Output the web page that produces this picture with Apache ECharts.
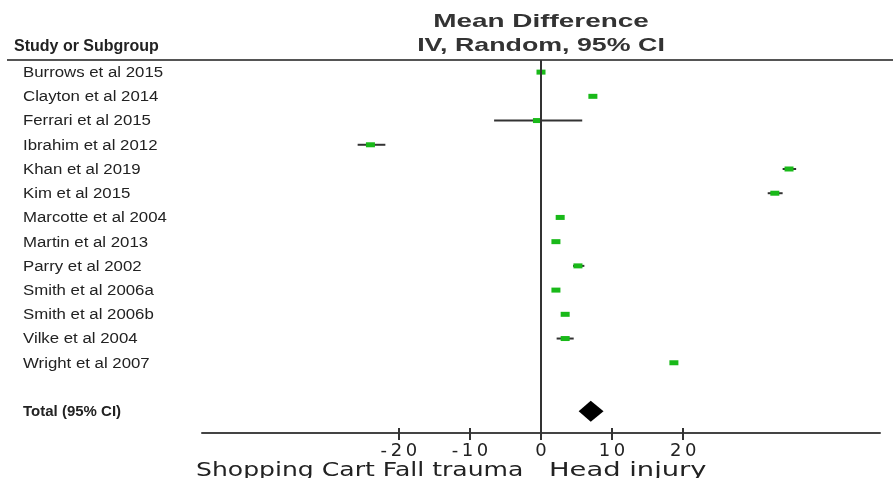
<!DOCTYPE html>
<html>
<head>
<meta charset="utf-8">
<script src="https://cdn.jsdelivr.net/npm/echarts@6/dist/echarts.min.js"></script>
<style>html,body{margin:0;padding:0;background:#fff}#c{width:893px;height:478px}</style>
</head>
<body>
<div id="c"></div>
<script>
const studies = ["Burrows et al 2015","Clayton et al 2014","Ferrari et al 2015","Ibrahim et al 2012","Khan et al 2019","Kim et al 2015","Marcotte et al 2004","Martin et al 2013","Parry et al 2002","Smith et al 2006a","Smith et al 2006b","Vilke et al 2004","Wright et al 2007"];
const meanDiff = [0, 7.3, -0.5, -24.0, 34.9, 32.9, 2.7, 2.1, 5.2, 2.1, 3.4, 3.4, 18.7];
const ciLower  = [-0.3, 7.0, -6.6, -25.8, 34.0, 31.9, 2.4, 1.8, 4.5, 1.8, 3.1, 2.2, 18.4];
const ciUpper  = [0.3, 7.6, 5.8, -21.9, 35.9, 34.0, 3.0, 2.4, 6.1, 2.4, 3.7, 4.6, 19.0];
const totalLabel = "Total (95% CI)";
const totalMD = 7.0, totalLower = 5.3, totalUpper = 8.8;
const tickValues = [-20, -10, 0, 10, 20];
const leftLabel = "Shopping Cart Fall trauma";
const rightLabel = "Head injury";
const headerTitle1 = "Mean Difference";
const headerTitle2 = "IV, Random, 95% CI";
const headerStudy = "Study or Subgroup";

const totalRow = studies.length + 1;
const studyData = studies.map((s, i) => [meanDiff[i], ciLower[i], ciUpper[i], i]);

const chart = echarts.init(document.getElementById('c'));
chart.setOption({
  animation: false,
  backgroundColor: '#fff',
  grid: {left: 202, right: 13, top: 60, bottom: 45},
  xAxis: [{
    type: 'value', min: -47.7, max: 47.7,
    splitLine: {show: false},
    axisLine: {show: true, onZero: false, lineStyle: {color: '#444', width: 2}},
    axisTick: {show: true, customValues: tickValues, length: 7, lineStyle: {color: '#333', width: 2}},
    axisLabel: {customValues: tickValues, margin: 9, fontFamily: 'DejaVu Sans', fontSize: 18, color: '#222',
      formatter: v => String(v).split('').join('\u2009')}
  }, {
    type: 'value', min: -47.7, max: 47.7, position: 'bottom', offset: 0,
    splitLine: {show: false}, axisLine: {show: false, onZero: false},
    axisTick: {show: true, inside: true, customValues: tickValues, length: 5, lineStyle: {color: '#333', width: 2}},
    axisLabel: {show: false}
  }],
  yAxis: {
    type: 'value', inverse: true, min: -0.5, max: 14.9,
    splitLine: {show: false}, axisLine: {show: false}, axisTick: {show: false}, axisLabel: {show: false}
  },
  series: [{
    type: 'custom',
    data: studyData,
    encode: {x: [0, 1, 2], y: 3},
    renderItem: (params, api) => {
      const y = api.value(3);
      const c = api.coord([api.value(0), y]);
      const l = api.coord([api.value(1), y]);
      const h = api.coord([api.value(2), y]);
      return {type: 'group', children: [
        {type: 'line', shape: {x1: l[0], y1: l[1], x2: h[0], y2: h[1]}, style: {stroke: '#333', lineWidth: 2}},
        {type: 'rect', shape: {x: c[0] - 4.5, y: c[1] - 2.5, width: 9, height: 5}, style: {fill: '#19b919'}}
      ]};
    },
    markLine: {
      silent: true, symbol: 'none', label: {show: false},
      lineStyle: {color: '#333', width: 2, type: 'solid'},
      data: [{xAxis: 0}]
    }
  }, {
    type: 'custom',
    data: [[totalMD, totalLower, totalUpper, totalRow]],
    encode: {x: [0, 1, 2], y: 3},
    renderItem: (params, api) => {
      const y = api.value(3);
      const c = api.coord([api.value(0), y]);
      const l = api.coord([api.value(1), y]);
      const h = api.coord([api.value(2), y]);
      return {type: 'polygon', shape: {points: [[l[0], l[1]], [c[0], c[1] - 10.5], [h[0], h[1]], [c[0], c[1] + 10.5]]}, style: {fill: '#000'}};
    }
  }]
});

// Row labels positioned through the y scale
const labelEls = studies.map((s, i) => ({
  type: 'text', x: 23, y: chart.convertToPixel({yAxisIndex: 0}, i) + 1, scaleX: 1.2,
  style: {text: s, font: '14px "Liberation Sans"', fill: '#222', align: 'left', verticalAlign: 'middle'}
}));
labelEls.push({
  type: 'text', x: 23, y: chart.convertToPixel({yAxisIndex: 0}, totalRow) + 1,
  style: {text: totalLabel, font: 'bold 15px "Liberation Sans"', fill: '#222', align: 'left', verticalAlign: 'middle'}
});

chart.setOption({
  graphic: [
    {type: 'line', shape: {x1: 7, y1: 60, x2: 893, y2: 60}, style: {stroke: '#555', lineWidth: 2}},
    {type: 'text', x: 14, y: 47, style: {text: headerStudy, font: 'bold 16px "Liberation Sans"', fill: '#222', align: 'left', verticalAlign: 'middle'}},
    {type: 'text', x: 541, y: 22, scaleX: 1.47, style: {text: headerTitle1, font: 'bold 19px "Liberation Sans"', fill: '#333', align: 'center', verticalAlign: 'middle'}},
    {type: 'text', x: 541, y: 46, scaleX: 1.41, style: {text: headerTitle2, font: 'bold 19px "Liberation Sans"', fill: '#333', align: 'center', verticalAlign: 'middle'}},
    {type: 'text', x: 196, y: 471, scaleX: 1.32, style: {text: leftLabel, font: '19px "DejaVu Sans"', fill: '#222', align: 'left', verticalAlign: 'middle'}},
    {type: 'text', x: 549, y: 471, scaleX: 1.44, style: {text: rightLabel, font: '19px "DejaVu Sans"', fill: '#222', align: 'left', verticalAlign: 'middle'}}
  ].concat(labelEls)
});
</script>
</body>
</html>
